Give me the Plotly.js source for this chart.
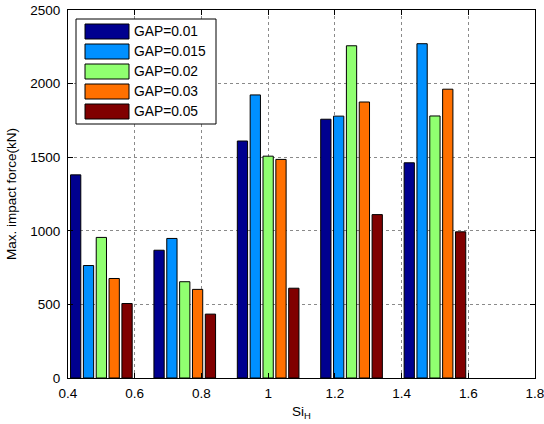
<!DOCTYPE html>
<html>
<head>
<meta charset="utf-8">
<script src="https://cdn.plot.ly/plotly-3.0.1.min.js"></script>
<style>
  html, body { margin: 0; padding: 0; background: #ffffff; }
  #chart { width: 544px; height: 424px; }
</style>
</head>
<body>
<div id="chart"></div>
<script>
// Si_H values at which the impact force was evaluated
const siH = [0.5, 0.75, 1.0, 1.25, 1.5];

// Gap settings (one bar series each)
const gapNames = ['GAP=0.01', 'GAP=0.015', 'GAP=0.02', 'GAP=0.03', 'GAP=0.05'];

// Maximum impact force (kN) for each gap
const gap001  = [1380, 868, 1610, 1758, 1462];
const gap0015 = [764, 948, 1923, 1779, 2271];
const gap002  = [955, 654, 1507, 2257, 1780];
const gap003  = [676, 602, 1485, 1875, 1962];
const gap005  = [506, 434, 610, 1110, 993];

// Axis tick labels
const xTickVals = [0.4, 0.6, 0.8, 1.0, 1.2, 1.4, 1.6, 1.8];
const xTickText = ['0.4', '0.6', '0.8', '1', '1.2', '1.4', '1.6', '1.8'];
const yTickVals = [0, 500, 1000, 1500, 2000, 2500];

const seriesValues = [gap001, gap0015, gap002, gap003, gap005];
const seriesColors = ['#00008f', '#0090ff', '#90ff70', '#ff7000', '#800000'];

const FONT = 'Liberation Sans, Arial, sans-serif';
const W = 544, H = 424;
const M = { l: 68, r: 9, t: 10, b: 46 };
const plotW = W - M.l - M.r, plotH = H - M.t - M.b;
const px = x => (x - M.l) / plotW;         // pixel -> paper x
const py = y => (H - M.b - y) / plotH;     // pixel -> paper y

const traces = seriesValues.map((vals, i) => ({
  type: 'bar',
  x: siH,
  y: vals,
  name: gapNames[i],
  marker: { color: seriesColors[i], line: { color: '#000000', width: 1 } },
  showlegend: false,
  hoverinfo: 'x+y+name'
}));

// Boxed key with wide colour patches
const shapes = [{
  type: 'rect', xref: 'paper', yref: 'paper',
  x0: px(76), x1: px(216), y0: py(124), y1: py(19),
  fillcolor: '#ffffff', line: { color: '#000000', width: 1 }, layer: 'above'
}];
const annotations = [];
gapNames.forEach((name, i) => {
  const top = 24 + 20 * i;
  shapes.push({
    type: 'rect', xref: 'paper', yref: 'paper',
    x0: px(85), x1: px(129), y0: py(top + 15), y1: py(top),
    fillcolor: seriesColors[i], line: { color: '#000000', width: 1 }, layer: 'above'
  });
  annotations.push({
    xref: 'paper', yref: 'paper', x: px(132), y: py(top + 7.5),
    xanchor: 'left', yanchor: 'middle', showarrow: false,
    text: name, font: { family: FONT, size: 13.8, color: '#000000' }
  });
});

const axisCommon = {
  showline: true, linecolor: '#000000', linewidth: 1, mirror: 'ticks',
  ticks: 'inside', ticklen: 5, tickcolor: '#000000',
  showgrid: true, gridcolor: '#8a8a8a', griddash: 'dot', gridwidth: 1,
  zeroline: false, ticklabeloverflow: 'allow',
  tickfont: { family: FONT, size: 13.5, color: '#000000' }
};

const layout = {
  width: W, height: H,
  margin: M,
  paper_bgcolor: '#ffffff', plot_bgcolor: '#ffffff',
  barmode: 'group', bargap: 0.23, bargroupgap: 0.2,
  xaxis: Object.assign({}, axisCommon, {
    range: [0.4, 1.8], tickvals: xTickVals, ticktext: xTickText,
    ticklabelstandoff: 3,
    title: { text: 'Si<sub>H</sub>', standoff: 6,
      font: { family: FONT, size: 13.5, color: '#000000' } }
  }),
  yaxis: Object.assign({}, axisCommon, {
    range: [0, 2500], tickvals: yTickVals,
    ticklabelstandoff: 4,
    title: { text: 'Max. impact force(kN)', standoff: 10,
      font: { family: FONT, size: 13.5, color: '#000000' } }
  }),
  shapes: shapes,
  annotations: annotations
};

Plotly.newPlot('chart', traces, layout, { displayModeBar: false, staticPlot: true });
</script>
</body>
</html>
